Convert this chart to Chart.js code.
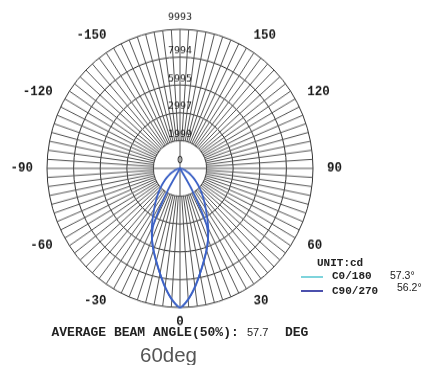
<!DOCTYPE html>
<html>
<head>
<meta charset="utf-8">
<script src="https://cdn.jsdelivr.net/npm/chart.js"></script>
<style>
  body { margin: 0; background: #fff; }
  #wrap { position: relative; width: 426px; height: 365px; overflow: hidden; }
  #polar { position: absolute; left: 0; top: 0; }
  .txt { position: absolute; white-space: pre; line-height: 1; color: #222; }
  .mono { font-family: "Liberation Mono", "DejaVu Sans Mono", monospace; font-weight: bold; }
  .sans { font-family: "Liberation Sans", Arial, sans-serif; }
  .swatch { position: absolute; width: 22px; height: 2px; }
</style>
</head>
<body>
<div id="wrap">
  <!-- the source picture is a little taller than wide, so the canvas is stretched -->
  <canvas id="polar" width="426" height="349" style="width:426px;height:365px"></canvas>

  <div class="txt mono" style="left:317px;top:257.7px;font-size:11px">UNIT:cd</div>
  <div class="swatch" style="left:301px;top:276px;background:#7fd4dc"></div>
  <div class="txt mono" style="left:332px;top:270.7px;font-size:11px">C0/180</div>
  <div class="txt sans" style="left:390px;top:269.9px;font-size:10.5px">57.3°</div>
  <div class="swatch" style="left:301px;top:290px;background:#4b50ad"></div>
  <div class="txt mono" style="left:332px;top:285.7px;font-size:11px">C90/270</div>
  <div class="txt sans" style="left:397px;top:282.4px;font-size:10.5px">56.2°</div>

  <div class="txt mono" style="left:51.5px;top:326.2px;font-size:13px">AVERAGE BEAM ANGLE(50%):</div>
  <div class="txt sans" style="left:247px;top:326.6px;font-size:11px">57.7</div>
  <div class="txt mono" style="left:285px;top:326.2px;font-size:13px">DEG</div>
  <div class="txt sans" style="left:140px;top:345.3px;font-size:20.5px;color:#555">60deg</div>
</div>

<script>
// angles, clockwise from the top of the diagram (3.75 deg per spoke)
const angleLabels = [
  '180', '176.25', '172.5', '168.75', '165', '161.25', '157.5', '153.75', '150', '146.25', '142.5', '138.75',
  '135', '131.25', '127.5', '123.75', '120', '116.25', '112.5', '108.75', '105', '101.25', '97.5', '93.75',
  '90', '86.25', '82.5', '78.75', '75', '71.25', '67.5', '63.75', '60', '56.25', '52.5', '48.75',
  '45', '41.25', '37.5', '33.75', '30', '26.25', '22.5', '18.75', '15', '11.25', '7.5', '3.75',
  '0', '-3.75', '-7.5', '-11.25', '-15', '-18.75', '-22.5', '-26.25', '-30', '-33.75', '-37.5', '-41.25',
  '-45', '-48.75', '-52.5', '-56.25', '-60', '-63.75', '-67.5', '-71.25', '-75', '-78.75', '-82.5', '-86.25',
  '-90', '-93.75', '-97.5', '-101.25', '-105', '-108.75', '-112.5', '-116.25', '-120', '-123.75', '-127.5', '-131.25',
  '-135', '-138.75', '-142.5', '-146.25', '-150', '-153.75', '-157.5', '-161.25', '-165', '-168.75', '-172.5', '-176.25'
];
const angleTicks = ['150', '120', '90', '60', '30', '0', '-30', '-60', '-90', '-120', '-150'];

// intensity in cd
const c0Values = [
  0, 0, 0, 0, 0, 0, 0, 0, 0, 0, 0, 0, 0, 0, 0, 0, 0, 0, 0, 0, 0, 0, 0, 0,
  0, 0, 0, 0, 0, 0, 0, 0, 0, 0, 0, 0, 0, 0, 0, 0, 1900, 4500, 5500, 6200, 6900, 7700, 8600, 9430,
  9993, 9430, 8600, 7700, 6900, 6200, 5500, 4500, 1900, 0, 0, 0, 0, 0, 0, 0, 0, 0, 0, 0, 0, 0, 0, 0,
  0, 0, 0, 0, 0, 0, 0, 0, 0, 0, 0, 0, 0, 0, 0, 0, 0, 0, 0, 0, 0, 0, 0, 0
];
const c90Values = [
  0, 0, 0, 0, 0, 0, 0, 0, 0, 0, 0, 0, 0, 0, 0, 0, 0, 0, 0, 0, 0, 0, 0, 0,
  0, 10, 50, 120, 220, 350, 520, 720, 950, 1200, 1480, 1800, 2150, 2560, 3000, 3480, 4100, 4800, 5500, 6200, 6900, 7700, 8600, 9430,
  9993, 9430, 8600, 7700, 6900, 6200, 5500, 4800, 4100, 3480, 3000, 2560, 2150, 1800, 1480, 1200, 950, 720, 520, 350, 220, 120, 50, 10,
  0, 0, 0, 0, 0, 0, 0, 0, 0, 0, 0, 0, 0, 0, 0, 0, 0, 0, 0, 0, 0, 0, 0, 0
];

const ringValues = [0, 1999, 3997, 5995, 7994, 9993];
const ringLabels = ['0', '1999', '2997', '5995', '7994', '9993'];

const ringColor = '#333';
const spokeColor = '#555';
const curveColor = '#3d62c6';

// texto das escalas e o miolo branco do diagrama
const polarText = {
  id: 'polarText',
  beforeDatasetsDraw(chart) {
    const r = chart.scales.r;
    const ctx = chart.ctx;
    const inner = r.getDistanceFromCenterForValue(ringValues[1]);
    ctx.save();

    ctx.fillStyle = '#fff';
    ctx.beginPath();
    ctx.arc(r.xCenter, r.yCenter, inner - 0.6, 0, Math.PI * 2);
    ctx.fill();
    ctx.strokeStyle = spokeColor;
    ctx.lineWidth = 1;
    ctx.beginPath();
    ctx.moveTo(r.xCenter - inner, r.yCenter);
    ctx.lineTo(r.xCenter + inner, r.yCenter);
    ctx.moveTo(r.xCenter, r.yCenter - inner);
    ctx.lineTo(r.xCenter, r.yCenter + inner);
    ctx.stroke();

    ctx.fillStyle = '#1a1a1a';
    ctx.font = '9.5px "DejaVu Sans"';
    ctx.textAlign = 'center';
    ctx.textBaseline = 'middle';
    const last = ringValues.length - 1;
    ringValues.forEach((v, i) => {
      const d = r.getDistanceFromCenterForValue(v);
      const lift = i === last ? 11.5 : (i === 0 ? 7.5 : 5.8);
      ctx.fillText(ringLabels[i], r.xCenter, r.yCenter - d - lift);
    });

    ctx.font = 'bold 12.5px "Liberation Mono"';
    angleTicks.forEach((t) => {
      const idx = angleLabels.indexOf(t);
      const p = r.getPointPosition(idx, r.drawingArea + 14);
      if (Math.abs(p.x - r.xCenter) < 1) ctx.textAlign = 'center';
      else ctx.textAlign = p.x > r.xCenter ? 'left' : 'right';
      ctx.fillText(t, p.x, p.y);
    });
    ctx.restore();
  }
};

new Chart(document.getElementById('polar'), {
  type: 'radar',
  data: {
    labels: angleLabels,
    datasets: [{
      label: 'C0/180',
      data: c0Values,
      borderColor: curveColor,
      borderWidth: 1.8,
      pointRadius: 0,
      fill: false,
      tension: 0.3
    }, {
      label: 'C90/270',
      data: c90Values,
      borderColor: curveColor,
      borderWidth: 1.8,
      pointRadius: 0,
      fill: false,
      tension: 0.3
    }]
  },
  options: {
    responsive: false,
    animation: false,
    layout: { padding: { left: 47, top: 28, right: 113, bottom: 55 } },
    plugins: {
      legend: { display: false },
      tooltip: { enabled: false }
    },
    scales: {
      r: {
        min: 0,
        max: 9993,
        startAngle: 0,
        afterBuildTicks: (scale) => {
          scale.ticks = ringValues.map(v => ({ value: v }));
        },
        ticks: { display: false },
        pointLabels: { display: false },
        grid: { circular: true, color: ringColor, lineWidth: 1 },
        angleLines: { color: spokeColor, lineWidth: 1 }
      }
    }
  },
  plugins: [polarText]
});
</script>
</body>
</html>
